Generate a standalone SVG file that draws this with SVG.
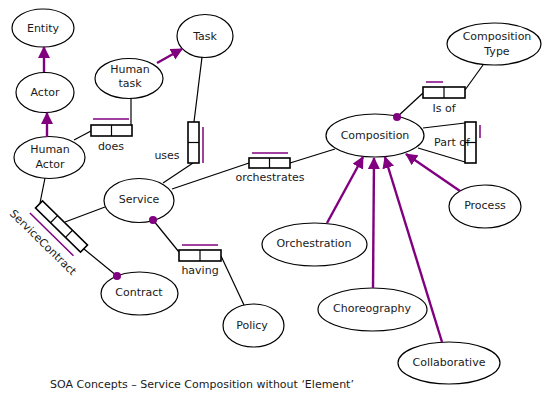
<svg xmlns="http://www.w3.org/2000/svg" width="542" height="394" viewBox="0 0 542 394">
  <style>
    .node ellipse { fill: #ffffff; stroke: #000000; stroke-width: 1.2; }
    text { font-family: "DejaVu Sans", "Liberation Sans", sans-serif; font-size: 11px; fill: #1a1a1a; text-anchor: middle; }
    .ln { stroke: #000000; stroke-width: 1.2; fill: none; }
    .box { fill: #ffffff; stroke: #000000; stroke-width: 1.6; }
    .div { stroke: #000000; stroke-width: 1.2; }
    .mark { stroke: #800080; stroke-width: 1.5; fill: none; }
    .isa { stroke: #800080; stroke-width: 2.4; fill: none; marker-end: url(#head); }
    .dot { fill: #800080; }
  </style>
  <defs>
    <marker id="head" viewBox="0 0 12 12" refX="11" refY="6" markerWidth="12" markerHeight="12" markerUnits="userSpaceOnUse" orient="auto">
      <path d="M0,0 L12,6 L0,12 Z" fill="#800080"/>
    </marker>
  </defs>

  <g id="entity" class="node"><ellipse cx="43" cy="28" rx="31" ry="19"/><text x="43" y="32">Entity</text></g>
  <g id="actor" class="node"><ellipse cx="45" cy="92.5" rx="29" ry="20"/><text x="45" y="96">Actor</text></g>
  <g id="human-actor" class="node"><ellipse cx="49.5" cy="157.5" rx="35.5" ry="21"/><text x="50" y="153">Human</text><text x="50" y="168">Actor</text></g>
  <g id="human-task" class="node"><ellipse cx="129" cy="78.5" rx="34" ry="20"/><text x="130" y="73">Human</text><text x="130" y="87">task</text></g>
  <g id="task" class="node"><ellipse cx="205" cy="36" rx="28" ry="21.5"/><text x="205" y="40">Task</text></g>
  <g id="service" class="node"><ellipse cx="139" cy="200.5" rx="35" ry="22"/><text x="139" y="203">Service</text></g>
  <g id="contract" class="node"><ellipse cx="139.5" cy="293.5" rx="38.5" ry="21.5"/><text x="139" y="296">Contract</text></g>
  <g id="policy" class="node"><ellipse cx="253.5" cy="325.5" rx="30.5" ry="21.5"/><text x="252" y="329">Policy</text></g>
  <g id="composition" class="node"><ellipse cx="375" cy="135.5" rx="49" ry="21.5"/><text x="375" y="139">Composition</text></g>
  <g id="composition-type" class="node"><ellipse cx="494" cy="44" rx="47" ry="21"/><text x="497" y="40">Composition</text><text x="497" y="55">Type</text></g>
  <g id="process" class="node"><ellipse cx="485" cy="206.5" rx="36" ry="21.5"/><text x="485" y="209">Process</text></g>
  <g id="orchestration" class="node"><ellipse cx="314.5" cy="244.5" rx="52.5" ry="21.5"/><text x="314" y="247">Orchestration</text></g>
  <g id="choreography" class="node"><ellipse cx="372.5" cy="309.5" rx="54.5" ry="21.5"/><text x="372" y="312">Choreography</text></g>
  <g id="collaborative" class="node"><ellipse cx="449" cy="363" rx="51" ry="21"/><text x="449" y="366">Collaborative</text></g>

  <!-- connectors, relation boxes and their labels (drawn over the nodes so end dots show) -->
  <g id="connectors">
    <!-- generalisation arrows -->
    <line class="isa" x1="44" y1="72" x2="44" y2="47"/>
    <line class="isa" x1="47" y1="137" x2="47" y2="113"/>
    <line class="isa" x1="157" y1="63" x2="182" y2="49"/>
    <line class="isa" x1="327" y1="223" x2="363" y2="157"/>
    <line class="isa" x1="373" y1="288" x2="374" y2="158"/>
    <line class="isa" x1="442" y1="342" x2="385" y2="157"/>
    <line class="isa" x1="460" y1="191" x2="406" y2="154"/>

    <!-- does -->
    <polyline class="ln" points="74,140 91,131"/>
    <polyline class="ln" points="131,98 131,125"/>
    <rect class="box" x="91" y="125" width="41" height="11"/>
    <line class="div" x1="111.5" y1="125" x2="111.5" y2="136"/>
    <line class="mark" x1="93" y1="119" x2="129" y2="119"/>
    <text x="111" y="150">does</text>

    <!-- uses -->
    <polyline class="ln" points="202,57 194,122"/>
    <polyline class="ln" points="193,163 163,183"/>
    <rect class="box" x="188" y="122" width="11" height="41"/>
    <line class="div" x1="188" y1="142.5" x2="199" y2="142.5"/>
    <line class="mark" x1="203" y1="127" x2="203" y2="163"/>
    <text x="167" y="159">uses</text>

    <!-- orchestrates -->
    <polyline class="ln" points="172,189 249,163"/>
    <polyline class="ln" points="290,163 335,149"/>
    <rect class="box" x="249" y="158" width="41" height="10"/>
    <line class="div" x1="269.5" y1="158" x2="269.5" y2="168"/>
    <line class="mark" x1="252" y1="153" x2="288" y2="153"/>
    <text x="270" y="181">orchestrates</text>

    <!-- ServiceContract -->
    <polyline class="ln" points="45,178 40,203"/>
    <polyline class="ln" points="105,207 65,222"/>
    <polyline class="ln" points="84,249 117,276"/>
    <g transform="translate(61.5,226.5) rotate(44.4)">
      <rect class="box" x="-31.5" y="-5" width="63" height="10"/>
      <line class="div" x1="-10.5" y1="-5" x2="-10.5" y2="5"/>
      <line class="div" x1="10.5" y1="-5" x2="10.5" y2="5"/>
      <line class="mark" x1="-32" y1="12.5" x2="29" y2="12.5"/>
      <text x="-2" y="28">ServiceContract</text>
    </g>
    <circle class="dot" cx="117" cy="276" r="4"/>

    <!-- having -->
    <polyline class="ln" points="153,220 179,252"/>
    <polyline class="ln" points="221,256 244,305"/>
    <rect class="box" x="179" y="250" width="42" height="11"/>
    <line class="div" x1="200" y1="250" x2="200" y2="261"/>
    <line class="mark" x1="182" y1="245" x2="218" y2="245"/>
    <circle class="dot" cx="153" cy="220" r="4"/>
    <text x="200" y="274">having</text>

    <!-- Is of -->
    <polyline class="ln" points="397,117 423,93"/>
    <polyline class="ln" points="465,90 483,65"/>
    <rect class="box" x="423" y="87" width="42" height="11"/>
    <line class="div" x1="444" y1="87" x2="444" y2="98"/>
    <line class="mark" x1="426" y1="82" x2="443" y2="82"/>
    <circle class="dot" cx="397" cy="117" r="4"/>
    <text x="444" y="112">Is of</text>

    <!-- Part of -->
    <polyline class="ln" points="423,128 465,123"/>
    <polyline class="ln" points="418,148 465,162"/>
    <rect class="box" x="465" y="122" width="11" height="41"/>
    <text x="452" y="146">Part of</text>
    <line class="div" x1="465" y1="142.5" x2="476" y2="142.5"/>
    <line class="mark" x1="480" y1="125" x2="480" y2="138"/>
  </g>

  <text id="caption" x="50" y="388" style="text-anchor: start;">SOA Concepts – Service Composition without ‘Element’</text>
</svg>
